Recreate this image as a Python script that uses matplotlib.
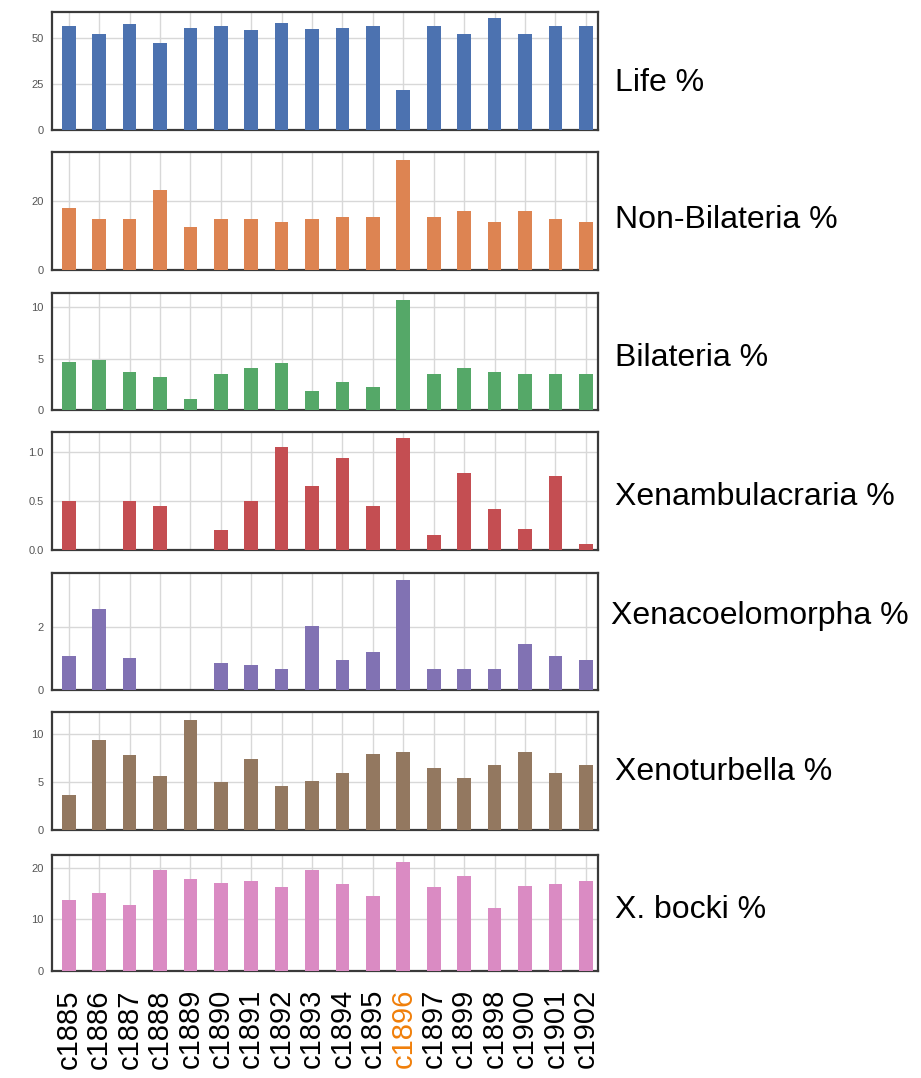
import matplotlib
matplotlib.use("Agg")
import matplotlib.pyplot as plt
import numpy as np

categories = ["c1885", "c1886", "c1887", "c1888", "c1889", "c1890", "c1891", "c1892", "c1893",
              "c1894", "c1895", "c1896", "c1897", "c1899", "c1898", "c1900", "c1901", "c1902"]

life = [56.4, 51.8, 57.3, 47.3, 55.1, 56.4, 54.0, 57.8, 54.9, 55.3, 56.4, 21.5, 56.4, 52.0, 60.7, 52.0, 56.4, 56.4]
non_bilateria = [17.9, 14.8, 14.8, 23.0, 12.5, 14.8, 14.8, 13.7, 14.8, 15.4, 15.4, 31.8, 15.4, 17.1, 13.7, 16.9, 14.8, 13.7]
bilateria = [4.7, 4.9, 3.7, 3.2, 1.1, 3.5, 4.1, 4.6, 1.9, 2.7, 2.2, 10.7, 3.5, 4.1, 3.7, 3.5, 3.5, 3.5]
xenambulacraria = [0.50, 0.0, 0.50, 0.45, 0.0, 0.20, 0.50, 1.06, 0.66, 0.94, 0.45, 1.15, 0.15, 0.79, 0.42, 0.22, 0.76, 0.06]
xenacoelomorpha = [1.08, 2.56, 1.02, 0.0, 0.0, 0.84, 0.79, 0.66, 2.03, 0.95, 1.20, 3.47, 0.65, 0.67, 0.67, 1.45, 1.08, 0.94]
xenoturbella = [3.7, 9.37, 7.9, 5.7, 11.5, 5.05, 7.44, 4.6, 5.1, 6.0, 7.96, 8.2, 6.5, 5.4, 6.8, 8.2, 6.0, 6.8]
x_bocki = [13.8, 15.2, 12.8, 19.5, 17.9, 17.0, 17.4, 16.3, 19.5, 16.8, 14.5, 21.1, 16.3, 18.4, 12.3, 16.5, 16.8, 17.4]

panel_titles = ["Life %", "Non-Bilateria %", "Bilateria %", "Xenambulacraria %",
                "Xenacoelomorpha %", "Xenoturbella %", "X. bocki %"]
series = [life, non_bilateria, bilateria, xenambulacraria, xenacoelomorpha, xenoturbella, x_bocki]
yticks = [[0, 25, 50], [0, 20], [0, 5, 10], [0.0, 0.5, 1.0], [0, 2], [0, 5, 10], [0, 10, 20]]
ytick_labels = [["0", "25", "50"], ["0", "20"], ["0", "5", "10"], ["0.0", "0.5", "1.0"],
                ["0", "2"], ["0", "5", "10"], ["0", "10", "20"]]
ylims = [64, 34, 11.4, 1.21, 3.7, 12.35, 22.5]
colors = ["#4C72B0", "#DD8452", "#55A868", "#C44E52", "#8172B3", "#937860", "#DA8BC3"]
highlight = "c1896"

W, H = 921, 1078
fig = plt.figure(figsize=(W / 100, H / 100), dpi=100)
plt.rcParams['font.family'] = ['Liberation Sans', 'DejaVu Sans']

panels_px = [(12, 130), (152, 270), (293, 410), (432, 550), (573, 690), (712, 830), (855, 971)]
title_pos_px = [(615, 83), (615, 220), (615, 358), (615, 497), (611, 616), (615, 772), (615, 910)]
left_px, right_px = 52, 598
x = np.arange(len(categories))

for i, (top, bot) in enumerate(panels_px):
    ax = fig.add_axes([left_px / W, 1 - bot / H, (right_px - left_px) / W, (bot - top) / H])
    ax.set_axisbelow(True)
    ax.bar(x, series[i], width=0.45, color=colors[i], zorder=3)
    ax.set_xlim(-0.55, len(categories) - 0.6)
    ax.set_ylim(0, ylims[i])
    ax.set_yticks(yticks[i])
    ax.set_yticklabels(ytick_labels[i], fontsize=8, color="#555555")
    ax.set_xticks(x)
    ax.set_xticklabels([])
    ax.tick_params(length=0, pad=6)
    ax.grid(True, color="#d8d8d8", linewidth=1.0)
    for s in ax.spines.values():
        s.set_color("#3a3a3a")
        s.set_linewidth(1.6)
    tx, ty = title_pos_px[i]
    fig.text(tx / W, 1 - ty / H, panel_titles[i], fontsize=23,
             ha="left", va="center", color="black")
    if i == len(panels_px) - 1:
        ax.set_xticklabels(categories, rotation=90, fontsize=21)
        ax.tick_params(axis="x", pad=13)
        for lab in ax.get_xticklabels():
            if lab.get_text() == highlight:
                lab.set_color("#F07F0A")

fig.savefig("out.png", dpi=100)
